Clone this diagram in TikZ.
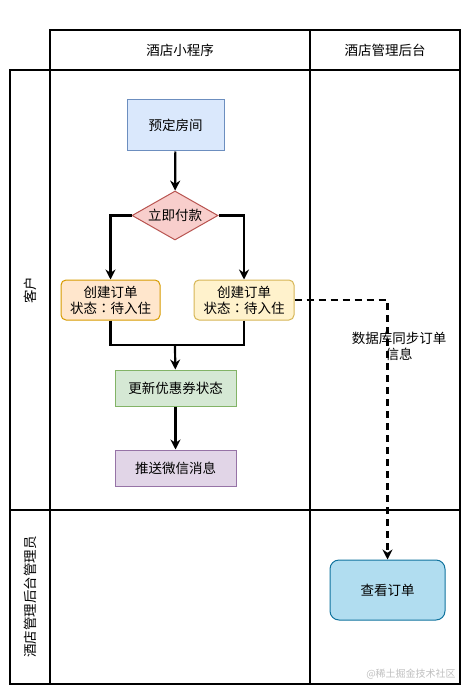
\documentclass[tikz,border=0pt]{standalone}
\usepackage{fontspec}
\setmainfont{Noto Sans CJK SC}
\newfontfamily\jpfont{Noto Sans CJK JP}
\usetikzlibrary{shapes.geometric,arrows.meta}
\begin{document}
\begin{tikzpicture}[x=1pt,y=-1pt,
  lane/.style={draw=black,line width=1.2pt},
  box/.style={draw,line width=1pt,minimum width=#1,align=center,inner sep=0pt,font=\fontsize{13.5}{16}\selectfont},
  flow/.style={line width=2.2pt,-{Stealth[length=10pt,width=10pt]}},
  plain/.style={line width=2.2pt},
  txt/.style={font=\fontsize{13.5}{16}\selectfont,align=center}
]
\useasboundingbox (0,0) rectangle (471,695);
% table
\draw[lane] (50,30) rectangle (460,70);
\draw[lane] (310,30) -- (310,684);
\draw[lane] (10,70) rectangle (460,510);
\draw[lane] (10,510) rectangle (460,684);
\draw[lane] (50,70) -- (50,684);
\node[txt] (h1) at (180,50) {酒店小程序};
\node[txt] (h2) at (385,50) {酒店管理后台};
\node[txt,rotate=90] (l1) at (30,290) {客户};
\node[txt,rotate=90] (l2) at (30,597) {酒店管理后台管理员};
% nodes
\node[box=97pt,minimum height=51pt,fill={rgb,255:red,218;green,232;blue,252},draw={rgb,255:red,108;green,142;blue,191}] (book) at (175.5,125.5) {预定房间};
\node[diamond,aspect=1.75,minimum width=86pt,minimum height=49pt,inner sep=0pt,draw={rgb,255:red,184;green,84;blue,80},fill={rgb,255:red,248;green,206;blue,204},line width=1pt,font=\fontsize{13.5}{16}\selectfont] (pay) at (175,215.5) {立即付款};
\node[box=99pt,minimum height=40pt,rounded corners=5pt,fill={rgb,255:red,255;green,230;blue,204},draw={rgb,255:red,215;green,155;blue,0}] (o1) at (110.5,300) {创建订单\\状态{\jpfont ：}待入住};
\node[box=100pt,minimum height=40pt,rounded corners=5pt,fill={rgb,255:red,255;green,242;blue,204},draw={rgb,255:red,214;green,182;blue,86}] (o2) at (244,300) {创建订单\\状态{\jpfont ：}待入住};
\node[box=121pt,minimum height=36pt,fill={rgb,255:red,213;green,232;blue,212},draw={rgb,255:red,130;green,179;blue,102}] (coupon) at (175.5,388) {更新优惠券状态};
\node[box=121pt,minimum height=36pt,fill={rgb,255:red,225;green,213;blue,231},draw={rgb,255:red,150;green,115;blue,166}] (push) at (175.5,468) {推送微信消息};
\node[box=115pt,minimum height=60pt,rounded corners=9pt,fill={rgb,255:red,177;green,221;blue,240},draw={rgb,255:red,16;green,115;blue,158}] (view) at (387.5,590) {查看订单};
% connectors
\coordinate (j) at (175,345);
\draw[flow] (book) -- (pay);
\draw[flow] (pay.west) -| (o1.north);
\draw[flow] (pay.east) -| (o2.north);
\draw[plain] (o1.south) |- (j);
\draw[plain] (o2.south) |- (j);
\draw[flow] (j) -- (coupon);
\draw[flow] (coupon) -- (push);
\draw[line width=2.2pt,dash pattern=on 7pt off 5pt,-{Stealth[length=10pt,width=10pt]}] (o2.east) -| (view.north);
\node[txt] (lbl) at (399,346) {数据库同步订单\\信息};
\node[font=\fontsize{10}{12}\selectfont,text=black!25] (wm) at (411,674) {@稀土掘金技术社区};
\end{tikzpicture}
\end{document}
